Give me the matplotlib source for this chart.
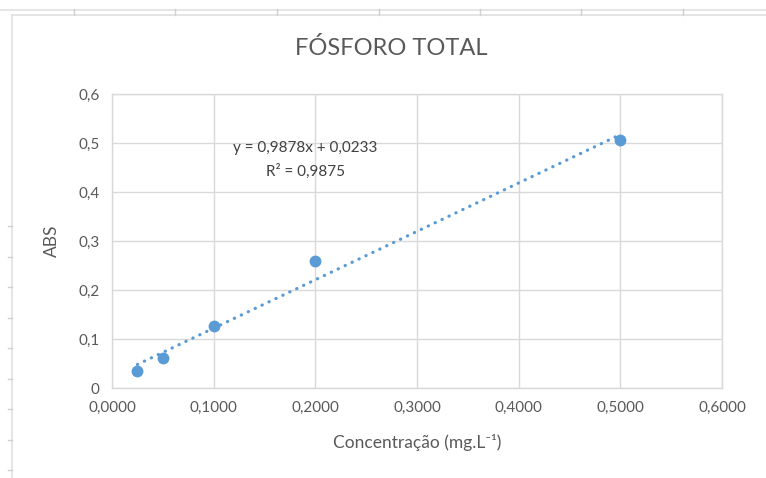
import numpy as np
import matplotlib.pyplot as plt
from matplotlib.lines import Line2D

plt.rcParams['font.family'] = ['Lato', 'DejaVu Sans']

conc = [0.025, 0.05, 0.1, 0.2, 0.5]
abs_vals = [0.035, 0.061, 0.127, 0.259, 0.507]
slope = 0.9878
intercept = 0.0233
x_ticks = [0.0, 0.1, 0.2, 0.3, 0.4, 0.5, 0.6]
x_labels = ['0,0000', '0,1000', '0,2000', '0,3000', '0,4000', '0,5000', '0,6000']
y_ticks = [0.0, 0.1, 0.2, 0.3, 0.4, 0.5, 0.6]
y_labels = ['0', '0,1', '0,2', '0,3', '0,4', '0,5', '0,6']

blue = '#5b9bd5'
grid = '#d9d9d9'
txt = '#595959'

fig = plt.figure(figsize=(7.66, 4.78), dpi=100)

# spreadsheet background lines around the chart
W, H = 766, 478
fig.add_artist(Line2D([0, 1], [1 - 9.5 / H] * 2, color='#e0e0e0', lw=1.2))
fig.add_artist(Line2D([11.5 / W, 1], [1 - 14.5 / H] * 2, color='#e0e0e0', lw=1.2))
fig.add_artist(Line2D([11.5 / W] * 2, [0, 1 - 14.5 / H], color='#e0e0e0', lw=1.2))
for xp in [74, 175, 277, 379, 480, 581, 683]:
    fig.add_artist(Line2D([xp / W] * 2, [1 - 9 / H, 1 - 15 / H], color='#d0d0d0', lw=1))
for yp in [226, 257, 287, 318, 348, 379, 409, 440, 470]:
    fig.add_artist(Line2D([8 / W, 11.5 / W], [1 - yp / H] * 2, color='#d0d0d0', lw=1))

ax = fig.add_axes([112 / W, 1 - 388 / H, 610 / W, 294 / H])

xs = np.array([conc[0], conc[-1]])
ax.plot(xs, slope * xs + intercept, linestyle=(0, (0.1, 2.3)), color=blue,
        lw=2.3, dash_capstyle='round', zorder=2)
ax.plot(conc, abs_vals, 'o', color=blue, markersize=7.5, zorder=3)

ax.set_xlim(0, 0.6)
ax.set_ylim(0, 0.6)
ax.set_xticks(x_ticks)
ax.set_xticklabels(x_labels)
ax.set_yticks(y_ticks)
ax.set_yticklabels(y_labels)
ax.tick_params(length=0, labelsize=11, colors=txt, pad=9)
ax.grid(True, color=grid, lw=1)
ax.set_axisbelow(True)
for s in ax.spines.values():
    s.set_color(grid)
    s.set_linewidth(1)

ax.set_xlabel('Concentração (mg.L⁻¹)', fontsize=12.5, color=txt, labelpad=14)
ax.set_ylabel('ABS', fontsize=12.5, color=txt, labelpad=13)
fig.text(391 / W, 1 - 48 / H, 'FÓSFORO TOTAL', fontsize=17, color=txt,
         ha='center', va='center')

ax.text(0.19, 0.49, 'y = 0,9878x + 0,0233', fontsize=11, color='#404040',
        ha='center', va='center')
ax.text(0.19, 0.443, 'R² = 0,9875', fontsize=11, color='#404040',
        ha='center', va='center')

fig.savefig('out.png', dpi=100)
